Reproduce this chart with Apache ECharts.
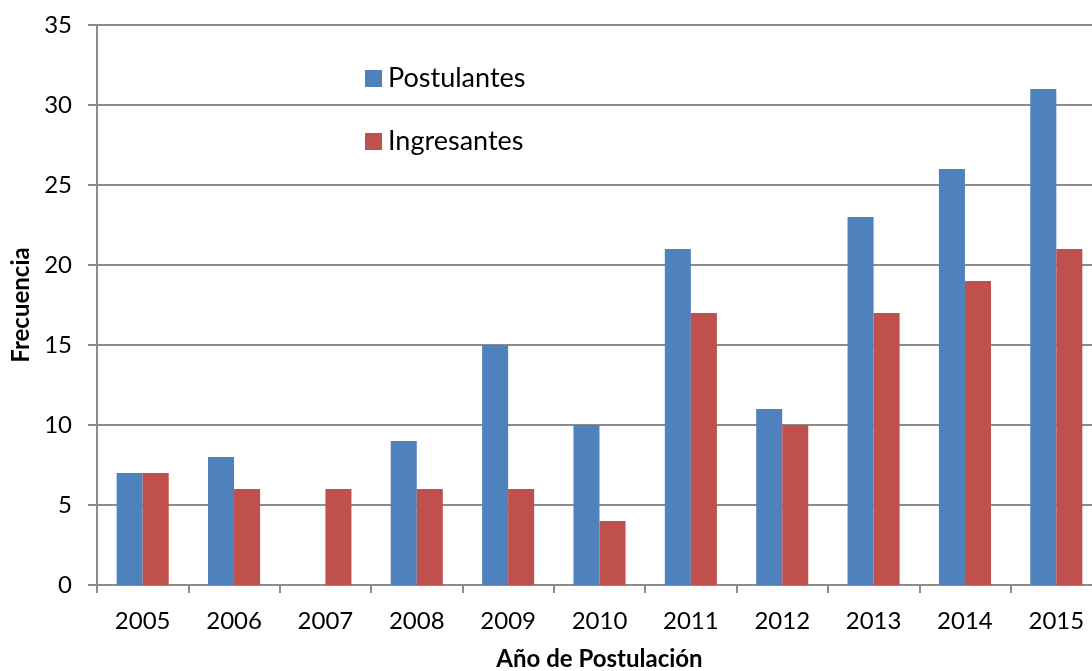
<!DOCTYPE html>
<html>
<head>
<meta charset="utf-8">
<script src="https://cdn.jsdelivr.net/npm/echarts@6/dist/echarts.min.js"></script>
<style>
  html, body { margin: 0; padding: 0; background: #fff; overflow: hidden; }
  #chart { width: 1092px; height: 671px; }
</style>
</head>
<body>
<div id="chart"></div>
<script>
// Applicants and admitted students per application year
const years = ['2005', '2006', '2007', '2008', '2009', '2010', '2011', '2012', '2013', '2014', '2015'];
const postulantes = [7, 8, 0, 9, 15, 10, 21, 11, 23, 26, 31];
const ingresantes = [7, 6, 6, 6, 6, 4, 17, 10, 17, 19, 21];
const yTicks = [0, 5, 10, 15, 20, 25, 30, 35];

const FONT = 'Lato, "Open Sans", sans-serif';
const GRID_COLOR = '#8c8c8c';

const chart = echarts.init(document.getElementById('chart'), null, { renderer: 'canvas' });
chart.setOption({
  animation: false,
  textStyle: { fontFamily: FONT },
  // plot area runs a little past the right edge of the canvas
  grid: { left: 97, top: 25, width: 1005, height: 560, containLabel: false, outerBoundsMode: 'none' },
  legend: {
    orient: 'vertical',
    left: 365,
    top: 65,
    padding: 0,
    itemWidth: 17,
    itemHeight: 17,
    itemGap: 36,
    icon: 'rect',
    textStyle: { fontSize: 27, lineHeight: 24, color: '#000', fontFamily: FONT, padding: [0, 0, 0, 1] },
    data: ['Postulantes', 'Ingresantes']
  },
  xAxis: {
    type: 'category',
    data: years,
    name: 'Año de Postulación',
    nameLocation: 'middle',
    nameGap: 62,
    nameTextStyle: { fontSize: 24, fontWeight: 'bold', color: '#000', fontFamily: FONT },
    axisLine: { lineStyle: { color: GRID_COLOR, width: 2 } },
    axisTick: { show: true, length: 8, alignWithLabel: false, lineStyle: { color: GRID_COLOR, width: 2 } },
    axisLabel: { fontSize: 24, color: '#000', margin: 24, fontFamily: FONT }
  },
  yAxis: {
    type: 'value',
    min: yTicks[0],
    max: yTicks[yTicks.length - 1],
    interval: 5,
    name: 'Frecuencia',
    nameLocation: 'middle',
    nameGap: 62,
    nameRotate: 90,
    nameTextStyle: { fontSize: 24, fontWeight: 'bold', color: '#000', fontFamily: FONT },
    axisLine: { show: true, lineStyle: { color: GRID_COLOR, width: 2 } },
    axisTick: { show: true, length: 9, lineStyle: { color: GRID_COLOR, width: 2 } },
    axisLabel: { fontSize: 24, color: '#000', margin: 25, fontFamily: FONT },
    splitLine: { show: true, lineStyle: { color: GRID_COLOR, width: 2 } }
  },
  series: [
    {
      name: 'Postulantes',
      type: 'bar',
      data: postulantes,
      barGap: '0%',
      barCategoryGap: '43%',
      itemStyle: { color: '#4F81BD' }
    },
    {
      name: 'Ingresantes',
      type: 'bar',
      data: ingresantes,
      barGap: '0%',
      barCategoryGap: '43%',
      itemStyle: { color: '#C0504D' }
    }
  ]
});
</script>
</body>
</html>
